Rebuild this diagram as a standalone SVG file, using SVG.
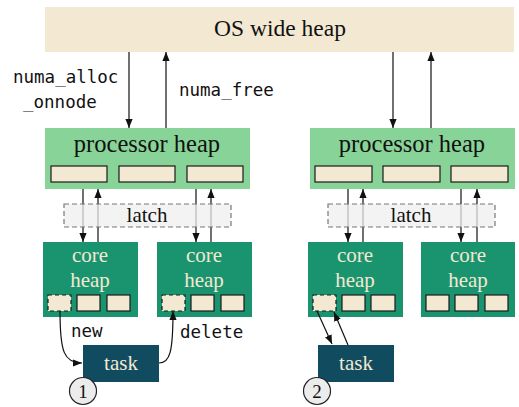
<svg xmlns="http://www.w3.org/2000/svg" width="519" height="407" viewBox="0 0 519 407">
  <style>
    .serif { font-family: "Liberation Serif", "Times New Roman", serif; text-anchor: middle; }
    .mono { font-family: "DejaVu Sans Mono", "Liberation Mono", monospace; font-size: 17.5px; fill: #111; }
    .os { fill: #F3E9D2; }
    .proc { fill: #88D498; }
    .core { fill: #1A936F; }
    .task { fill: #114B5F; }
    .slot { fill: #F3E9D2; stroke: #1a1a1a; stroke-width: 1.2; }
    .slot-dash { fill: #F3E9D2; stroke: #1a1a1a; stroke-width: 1.2; stroke-dasharray: 4 3; }
    .latch { fill: #EFEFEF; fill-opacity: 0.75; stroke: #777; stroke-width: 1.2; stroke-dasharray: 5 3; }
    .light { fill: #F3E9D2; }
    .dark { fill: #111; }
    .arrow { fill: none; stroke: #111; stroke-width: 1.2; marker-end: url(#head); }
    .badge { fill: #ECECEC; stroke: #222; stroke-width: 1.2; }
  </style>
  <defs>
    <marker id="head" viewBox="0 0 10 10" refX="10" refY="5" markerWidth="9" markerHeight="9" markerUnits="userSpaceOnUse" orient="auto">
      <path d="M0,1 L10,5 L0,9 z" fill="#111"/>
    </marker>
  </defs>

  <!-- OS heap -->
  <g id="os-heap">
    <rect class="os" x="45" y="7" width="469" height="45"/>
    <text class="serif dark" x="280" y="36" font-size="23.5">OS wide heap</text>
  </g>

  <!-- processor heaps -->
  <g id="proc-heap-1">
    <rect class="proc" x="45" y="128" width="205" height="61"/>
    <text class="serif dark" x="147" y="152" font-size="24.5">processor heap</text>
    <rect class="slot" x="51" y="166" width="56" height="16"/>
    <rect class="slot" x="119" y="166" width="56" height="16"/>
    <rect class="slot" x="187" y="166" width="56" height="16"/>
  </g>
  <g id="proc-heap-2">
    <rect class="proc" x="310" y="128" width="205" height="61"/>
    <text class="serif dark" x="412" y="152" font-size="24.5">processor heap</text>
    <rect class="slot" x="315" y="166" width="57" height="16"/>
    <rect class="slot" x="383" y="166" width="57" height="16"/>
    <rect class="slot" x="451" y="166" width="57" height="16"/>
  </g>

  <!-- core heaps -->
  <g id="core-heap-1">
    <rect class="core" x="43" y="242" width="95" height="75"/>
    <text class="serif light" x="90" y="262" font-size="21">core</text>
    <text class="serif light" x="90" y="287" font-size="21">heap</text>
    <rect class="slot-dash" x="48" y="295" width="23" height="16"/>
    <rect class="slot" x="77" y="295" width="23" height="16"/>
    <rect class="slot" x="107" y="295" width="23" height="16"/>
  </g>
  <g id="core-heap-2">
    <rect class="core" x="157" y="242" width="95" height="75"/>
    <text class="serif light" x="204" y="262" font-size="21">core</text>
    <text class="serif light" x="204" y="287" font-size="21">heap</text>
    <rect class="slot-dash" x="162" y="295" width="23" height="16"/>
    <rect class="slot" x="191" y="295" width="23" height="16"/>
    <rect class="slot" x="221" y="295" width="23" height="16"/>
  </g>
  <g id="core-heap-3">
    <rect class="core" x="308" y="242" width="95" height="75"/>
    <text class="serif light" x="355" y="262" font-size="21">core</text>
    <text class="serif light" x="355" y="287" font-size="21">heap</text>
    <rect class="slot-dash" x="313" y="295" width="23" height="16"/>
    <rect class="slot" x="342" y="295" width="23" height="16"/>
    <rect class="slot" x="371" y="295" width="24" height="16"/>
  </g>
  <g id="core-heap-4">
    <rect class="core" x="421" y="242" width="94" height="75"/>
    <text class="serif light" x="468" y="262" font-size="21">core</text>
    <text class="serif light" x="468" y="287" font-size="21">heap</text>
    <rect class="slot" x="426" y="295" width="23" height="16"/>
    <rect class="slot" x="455" y="295" width="23" height="16"/>
    <rect class="slot" x="485" y="295" width="23" height="16"/>
  </g>

  <!-- tasks -->
  <g id="task-1">
    <rect class="task" x="83" y="345" width="76" height="37"/>
    <text class="serif light" x="121" y="370" font-size="21">task</text>
  </g>
  <g id="task-2">
    <rect class="task" x="318" y="345" width="76" height="37"/>
    <text class="serif light" x="356" y="370" font-size="21">task</text>
  </g>

  <!-- connectors -->
  <g id="connectors">
    <path class="arrow" d="M129,52 L129,128"/>
    <path class="arrow" d="M166,128 L166,52"/>
    <path class="arrow" d="M393,52 L393,128"/>
    <path class="arrow" d="M431,128 L431,52"/>

    <path class="arrow" d="M83,189 L83,242"/>
    <path class="arrow" d="M98,242 L98,189"/>
    <path class="arrow" d="M196,189 L196,242"/>
    <path class="arrow" d="M211,242 L211,189"/>
    <path class="arrow" d="M348,189 L348,242"/>
    <path class="arrow" d="M363,242 L363,189"/>
    <path class="arrow" d="M461,189 L461,242"/>
    <path class="arrow" d="M477,242 L477,189"/>

    <path class="arrow" d="M60,311 C60,352 64,363 82,363"/>
    <path class="arrow" d="M159,363 C170,363 173,352 173,311"/>
    <path class="arrow" d="M317,311 L332,344"/>
    <path class="arrow" d="M348,345 L334,312"/>
  </g>

  <!-- latches, drawn over the connectors they guard -->
  <g id="latch-1">
    <rect class="latch" x="64" y="204" width="167" height="23"/>
    <text class="serif dark" x="147" y="222" font-size="21">latch</text>
  </g>
  <g id="latch-2">
    <rect class="latch" x="328" y="204" width="167" height="23"/>
    <text class="serif dark" x="411" y="222" font-size="21">latch</text>
  </g>

  <!-- connector labels -->
  <g id="labels">
    <text class="mono" x="13" y="83">numa_alloc</text>
    <text class="mono" x="23" y="108">_onnode</text>
    <text class="mono" x="179" y="96">numa_free</text>
    <text class="mono" x="71" y="337">new</text>
    <text class="mono" x="180" y="338">delete</text>
  </g>

  <!-- step markers -->
  <g id="step-1">
    <circle class="badge" cx="83" cy="391" r="13.5"/>
    <text class="serif dark" x="83" y="397.5" font-size="19">1</text>
  </g>
  <g id="step-2">
    <circle class="badge" cx="317" cy="391" r="13.5"/>
    <text class="serif dark" x="317" y="397.5" font-size="19">2</text>
  </g>
</svg>
